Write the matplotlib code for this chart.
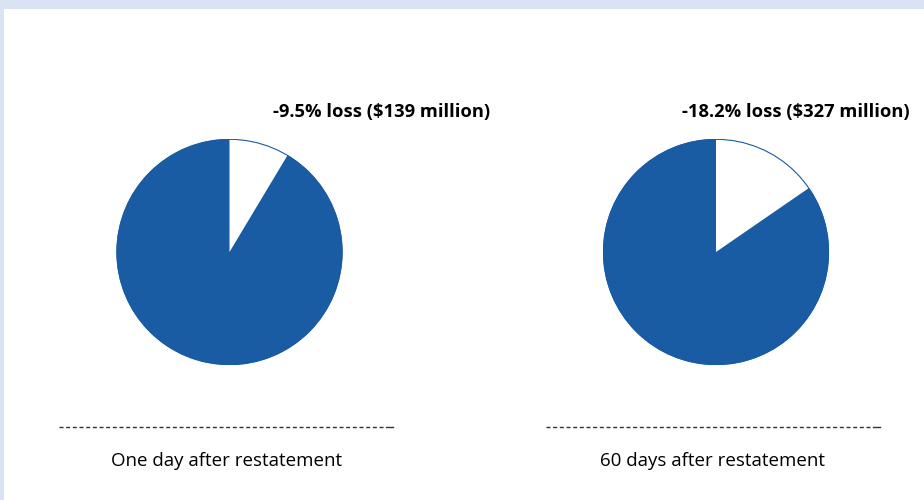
# two pies: share price loss after a restatement
import matplotlib.pyplot as plt
from matplotlib.patches import Rectangle, Circle

titles = ['One day after restatement', '60 days after restatement']
loss_labels = ['-9.5% loss ($139 million)', '-18.2% loss ($327 million)']
# loss share as drawn in the picture (percent of the pie)
loss_share = [8.6, 15.4]

blue = '#1a5ca3'
W, H = 924, 500

fig = plt.figure(figsize=(W / 100, H / 100), dpi=100, facecolor='#d9e3f3')
fig.patches.append(Rectangle((4 / W, 0), 1, (H - 9) / H, transform=fig.transFigure,
                             facecolor='white', edgecolor='none', zorder=-5))

centers = [229.5, 716]
label_right = [490, 910]
r = 113
cy = 252
for i in range(2):
    cx = centers[i]
    ax = fig.add_axes([(cx - r) / W, (H - cy - r) / H, 2 * r / W, 2 * r / H])
    ax.pie([loss_share[i], 100 - loss_share[i]], colors=['white', blue],
           startangle=90, counterclock=False, radius=1,
           wedgeprops={'edgecolor': 'none', 'linewidth': 0})
    ax.add_patch(Circle((0, 0), 0.997, fill=False, edgecolor=blue, linewidth=0.8))
    ax.set_xlim(-1.0, 1.0)
    ax.set_ylim(-1.0, 1.0)
    ax.set_aspect('equal')
    ax.axis('off')

    # label above right
    fig.text(label_right[i] / W, (H - 112) / H, loss_labels[i],
             ha='right', va='center', fontsize=13.2, fontweight='bold',
             family='Open Sans', color='black')

    # dashed rule and caption below
    x0 = cx - 170.5
    x1 = cx + 163.5
    fig.add_artist(plt.Line2D([x0 / W, (x1 - 8) / W], [(H - 427) / H] * 2,
                              transform=fig.transFigure, color='#333333',
                              linewidth=1.0, dashes=(2.9, 1.9)))
    fig.add_artist(plt.Line2D([(x1 - 7) / W, x1 / W], [(H - 427) / H] * 2,
                              transform=fig.transFigure, color='#333333', linewidth=1.0))
    fig.text((cx - 3) / W, (H - 461) / H, titles[i], ha='center', va='center',
             fontsize=13.5, family='Open Sans', color='black')

fig.savefig('out.png', dpi=100, facecolor=fig.get_facecolor())
